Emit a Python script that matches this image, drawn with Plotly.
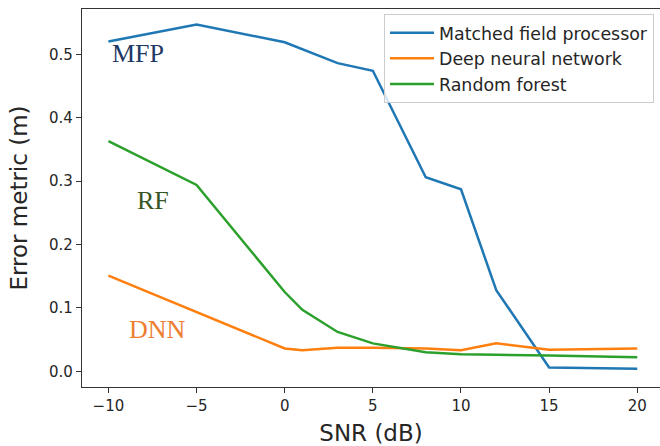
import plotly.graph_objects as go

snr = [-10, -5, 0, 1, 3, 5, 8, 10, 12, 15, 20]
mfp = [0.520, 0.547, 0.519, 0.508, 0.486, 0.474, 0.306, 0.287, 0.128, 0.006, 0.004]
dnn = [0.151, 0.093, 0.036, 0.033, 0.037, 0.037, 0.036, 0.033, 0.044, 0.034, 0.036]
rf = [0.363, 0.294, 0.125, 0.097, 0.062, 0.044, 0.030, 0.027, 0.026, 0.025, 0.022]

names = ["Matched field processor", "Deep neural network", "Random forest"]
colors = ["#1f77b4", "#ff7f0e", "#2ca02c"]

fig = go.Figure()
for ys, n, c in zip([mfp, dnn, rf], names, colors):
    fig.add_trace(go.Scatter(x=snr, y=ys, mode="lines", name=n,
                             line=dict(color=c, width=2.5)))

labels = [("MFP", -8.3, 0.502, "#1f3864"), ("RF", -7.5, 0.270, "#375623"), ("DNN", -7.2, 0.066, "#ed7d31")]
for t, x, y, c in labels:
    fig.add_annotation(x=x, y=y, text=t, showarrow=False,
                       font=dict(family="Liberation Serif", size=26, color=c))

fig.update_layout(
    width=660, height=446,
    margin=dict(l=82, r=0, t=9, b=59, autoexpand=False),
    paper_bgcolor="white", plot_bgcolor="white",
    font=dict(family="DejaVu Sans", color="#262626"),
    legend=dict(x=0.5225, y=0.987, xanchor="left", yanchor="top",
                bgcolor="rgba(255,255,255,0.8)", bordercolor="#cccccc", borderwidth=1,
                font=dict(size=17.4, family="DejaVu Sans", color="#262626"),
                itemwidth=44, tracegroupgap=0),
    xaxis=dict(range=[-11.5, 21.29], tickvals=[-10, -5, 0, 5, 10, 15, 20],
               ticktext=["\u221210", "\u22125", "0", "5", "10", "15", "20"],
               showgrid=False, zeroline=False, showline=True, linecolor="#333333",
               linewidth=1.2, mirror=True, ticks="outside", ticklen=5, tickcolor="#333333",
               tickfont=dict(size=15), automargin=False,
               title=dict(text="SNR (dB)", font=dict(size=23), standoff=14)),
    yaxis=dict(range=[-0.0248, 0.5714], tickvals=[0, 0.1, 0.2, 0.3, 0.4, 0.5],
               ticktext=["0.0", "0.1", "0.2", "0.3", "0.4", "0.5"],
               showgrid=False, zeroline=False, showline=True, linecolor="#333333",
               linewidth=1.2, ticks="outside", ticklen=5, tickcolor="#333333",
               tickfont=dict(size=15), automargin=False,
               title=dict(text="Error metric (m)", font=dict(size=23), standoff=14)),
)

fig.write_html("out.html", config={"displayModeBar": False},
               post_script="document.body.style.margin='0';document.body.style.padding='0';document.body.style.overflow='hidden';")
